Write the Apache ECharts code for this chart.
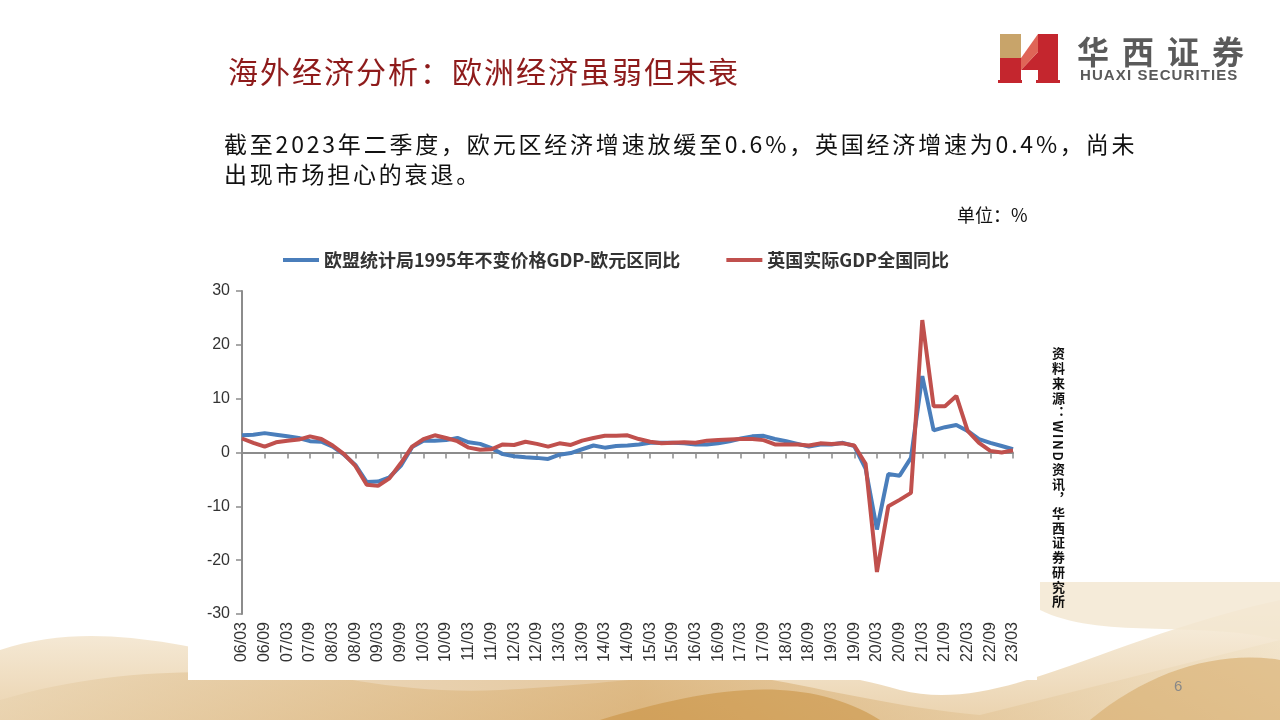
<!DOCTYPE html>
<html>
<head>
<meta charset="utf-8">
<script src="https://cdn.jsdelivr.net/npm/echarts@6/dist/echarts.min.js"></script>
<style>
  html, body { margin:0; padding:0; background:#ffffff; }
  #page { position:relative; width:1280px; height:720px; overflow:hidden; background:#ffffff; font-family:"Noto Sans CJK SC","Liberation Sans",sans-serif; }
  #deco { position:absolute; left:0; top:0; }
  #whitebox { position:absolute; left:188px; top:220px; width:849px; height:460px; background:#ffffff; }
  #chart { position:absolute; left:0; top:0; width:1280px; height:720px; }
  .txt { position:absolute; white-space:nowrap; }
  #title { left:228px; top:48px; font-size:30px; letter-spacing:2px; color:#8e1b1b; }
  #body { left:224px; top:128px; font-size:23px; letter-spacing:2.8px; line-height:30px; color:#111; }
  #unit { left:957px; top:201px; font-size:18px; color:#111; }
  #source { left:1049px; top:347px; font-size:13px; writing-mode:vertical-rl; letter-spacing:1.7px; color:#111; font-weight:bold; }
  #pnum { left:1174px; top:677px; font-size:15px; color:#888; font-family:"Liberation Sans",sans-serif; }
  #logo1 { left:1077px; top:27px; font-size:32px; line-height:46px; font-weight:bold; color:#5a5a5a; letter-spacing:13px; }
  #logo2 { left:1080px; top:66px; font-size:15px; line-height:18px; font-weight:bold; color:#5a5a5a; font-family:"Liberation Sans",sans-serif; letter-spacing:1.1px; }
</style>
</head>
<body>
<div id="page">
  <svg id="deco" width="1280" height="720" viewBox="0 0 1280 720">
    <defs>
      <linearGradient id="g1" x1="0" y1="0" x2="1" y2="0">
        <stop offset="0" stop-color="#e8d2ae"/>
        <stop offset="0.5" stop-color="#d2a25e"/>
        <stop offset="1" stop-color="#f1e3c8"/>
      </linearGradient>
      <linearGradient id="g2" x1="0" y1="0" x2="0" y2="1">
        <stop offset="0" stop-color="#f6ecd9"/>
        <stop offset="1" stop-color="#e2c08c"/>
      </linearGradient>
    </defs>
    <path d="M0,650 C150,600 300,700 500,690 C700,680 760,650 900,690 C1000,715 1100,640 1280,600 L1280,720 L0,720 Z" fill="url(#g2)" opacity="0.7"/>
    <path d="M0,700 C200,640 350,700 560,672 C720,650 820,700 980,715 L1280,640 L1280,720 L0,720 Z" fill="url(#g1)" opacity="0.6"/>
    <path d="M1040,582 L1280,582 L1280,640 C1200,620 1100,640 1040,610 Z" fill="#f3e6cf" opacity="0.8"/>
    <path d="M600,720 C700,690 800,670 880,720 Z" fill="#c98f3e" opacity="0.55"/>
    <path d="M1090,720 C1150,670 1220,650 1280,660 L1280,720 Z" fill="#d7ab6a" opacity="0.6"/>
  </svg>
  <div id="whitebox"></div>
  <div id="chart"></div>

  <svg style="position:absolute;left:998px;top:32px" width="62" height="52" viewBox="0 0 62 52">
    <rect x="2" y="2" width="21" height="24" fill="#c8a46a"/>
    <rect x="2" y="26" width="21" height="24" fill="#c4262e"/>
    <rect x="40" y="2" width="20" height="48" fill="#c4262e"/>
    <polygon points="23,38 40,20 40,38" fill="#c4262e"/>
    <polygon points="23,26 40,2 40,20 23,38" fill="#d94a3a" opacity="0.85"/>
    <rect x="0" y="48" width="24" height="3" fill="#c4262e"/>
    <rect x="38" y="48" width="24" height="3" fill="#c4262e"/>
  </svg>
  <div class="txt" id="logo1">华西证券</div>
  <div class="txt" id="logo2">HUAXI SECURITIES</div>

  <div class="txt" id="title">海外经济分析：欧洲经济虽弱但未衰</div>
  <div class="txt" id="body">截至2023年二季度，欧元区经济增速放缓至0.6%，英国经济增速为0.4%，尚未<br>出现市场担心的衰退。</div>
  <div class="txt" id="unit">单位：%</div>
  <div class="txt" id="source">资料来源：WIND资讯，华西证券研究所</div>
  <div class="txt" id="pnum">6</div>
</div>
<script>
const categories = [
  '06/03','06/06','06/09','06/12','07/03','07/06','07/09','07/12',
  '08/03','08/06','08/09','08/12','09/03','09/06','09/09','09/12',
  '10/03','10/06','10/09','10/12','11/03','11/06','11/09','11/12',
  '12/03','12/06','12/09','12/12','13/03','13/06','13/09','13/12',
  '14/03','14/06','14/09','14/12','15/03','15/06','15/09','15/12',
  '16/03','16/06','16/09','16/12','17/03','17/06','17/09','17/12',
  '18/03','18/06','18/09','18/12','19/03','19/06','19/09','19/12',
  '20/03','20/06','20/09','20/12','21/03','21/06','21/09','21/12',
  '22/03','22/06','22/09','22/12','23/03'
];
const euroName = '欧盟统计局1995年不变价格GDP-欧元区同比';
const ukName = '英国实际GDP全国同比';
const euroValues = [
  3.2, 3.3, 3.6, 3.3, 3.0, 2.7, 2.1, 2.0,
  1.1, -0.4, -2.3, -5.5, -5.4, -4.6, -2.5, 1.0,
  2.2, 2.2, 2.3, 2.7, 1.9, 1.6, 0.8, -0.3,
  -0.7, -0.9, -1.0, -1.2, -0.4, -0.1, 0.6, 1.3,
  0.9, 1.2, 1.3, 1.5, 1.8, 1.8, 1.8, 1.7,
  1.5, 1.5, 1.7, 2.1, 2.6, 3.0, 3.1, 2.5,
  2.1, 1.6, 1.1, 1.5, 1.5, 1.8, 1.2, -3.0,
  -14.3, -4.0, -4.3, -1.0, 14.2, 4.1, 4.7, 5.1,
  4.0, 2.5, 1.8, 1.2, 0.6
];
const ukValues = [
  2.6, 1.8, 1.1, 1.9, 2.2, 2.4, 3.0, 2.5,
  1.3, -0.3, -2.5, -6.0, -6.2, -4.8, -2.0, 1.1,
  2.5, 3.2, 2.7, 2.1, 0.9, 0.5, 0.6, 1.5,
  1.4, 2.0, 1.6, 1.1, 1.7, 1.4, 2.2, 2.7,
  3.1, 3.1, 3.2, 2.5, 2.0, 1.7, 1.8, 1.9,
  1.8, 2.2, 2.3, 2.4, 2.5, 2.5, 2.3, 1.5,
  1.5, 1.5, 1.3, 1.7, 1.6, 1.7, 1.3, -2.1,
  -22.2, -10.0, -8.8, -7.5, 24.6, 8.6, 8.6, 10.5,
  4.0, 1.8, 0.3, 0.0, 0.4
];
const yTicks = { min: -30, max: 30, interval: 10 };

const chart = echarts.init(document.getElementById('chart'), null, { renderer: 'canvas' });
const axisColor = '#8c8c8c';
const fontFam = '"Liberation Sans", "Noto Sans CJK SC", sans-serif';
chart.setOption({
  backgroundColor: 'transparent',
  animation: false,
  textStyle: { fontFamily: fontFam },
  legend: {
    top: 246, left: 278,
    icon: 'rect', itemWidth: 36, itemHeight: 4, itemGap: 46,
    textStyle: { fontSize: 18, fontWeight: 'bold', color: '#333', fontFamily: '"Noto Sans CJK SC", sans-serif' },
    data: [euroName, ukName]
  },
  grid: { left: 242, right: 267, top: 291, bottom: 106, containLabel: false },
  xAxis: [
    {
      type: 'category', data: categories, boundaryGap: false,
      axisLine: { onZero: true, lineStyle: { color: axisColor, width: 2 } },
      axisTick: { show: true, interval: 1, length: 6, lineStyle: { color: axisColor, width: 1.5 } },
      axisLabel: { show: false },
      splitLine: { show: false }
    },
    {
      type: 'category', data: categories, boundaryGap: false, position: 'bottom',
      axisLine: { show: false, onZero: false },
      axisTick: { show: false },
      axisLabel: { interval: 1, rotate: 90, fontSize: 16, color: '#333', margin: 8, fontFamily: fontFam },
      splitLine: { show: false }
    }
  ],
  yAxis: {
    type: 'value', min: yTicks.min, max: yTicks.max, interval: yTicks.interval,
    axisLine: { show: true, onZero: false, lineStyle: { color: axisColor, width: 2 } },
    axisTick: { show: true, length: 6, lineStyle: { color: axisColor, width: 1.5 } },
    axisLabel: { fontSize: 16, color: '#333', margin: 12, fontFamily: fontFam },
    splitLine: { show: false }
  },
  series: [
    {
      name: euroName, type: 'line', data: euroValues, xAxisIndex: 0,
      symbol: 'none', color: '#4a7ebb',
      lineStyle: { width: 4, color: '#4a7ebb' }
    },
    {
      name: ukName, type: 'line', data: ukValues, xAxisIndex: 0,
      symbol: 'none', color: '#c0504d',
      lineStyle: { width: 4, color: '#c0504d' }
    }
  ]
});
</script>
</body>
</html>
